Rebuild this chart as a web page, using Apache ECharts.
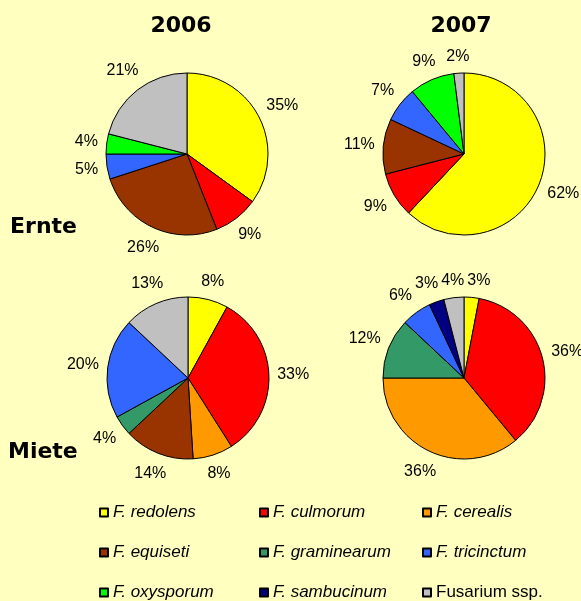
<!DOCTYPE html>
<html>
<head>
<meta charset="utf-8">
<title>Fusarium 2006 / 2007</title>
<script src="https://cdn.jsdelivr.net/npm/echarts@6/dist/echarts.min.js"></script>
<style>
  html, body { margin: 0; padding: 0; background: #ffffc0; }
  #main { width: 581px; height: 601px; }
</style>
</head>
<body>
<div id="main"></div>
<script>
// Arten (Legendenreihenfolge) und ihre Farben
const species = ['F. redolens', 'F. culmorum', 'F. cerealis',
                 'F. equiseti', 'F. graminearum', 'F. tricinctum',
                 'F. oxysporum', 'F. sambucinum', 'Fusarium ssp.'];
const speciesColors = ['#ffff00', '#ff0000', '#ff9900',
                       '#993300', '#339966', '#3366ff',
                       '#00ff00', '#000080', '#c0c0c0'];

// Anteile in % (0 = nicht vorhanden)
const ernte2006 = [35, 9, 0, 26, 0, 5, 4, 0, 21];
const ernte2007 = [62, 9, 0, 11, 0, 7, 9, 0, 2];
const miete2006 = [8, 33, 8, 14, 4, 20, 0, 0, 13];
const miete2007 = [3, 36, 36, 0, 12, 6, 0, 3, 4];

const years = ['2006', '2007'];
const rows = ['Ernte', 'Miete'];

const pies = [
  { values: ernte2006, center: [187, 154] },
  { values: ernte2007, center: [464, 154] },
  { values: miete2006, center: [188, 378] },
  { values: miete2007, center: [464, 378] }
];
const R = 81;
const GAP = 8;
const LABEL_FONT = '16px "Liberation Sans", Arial, sans-serif';

const chart = echarts.init(document.getElementById('main'));

// nur vorhandene Arten in die Torte
const pieData = pies.map(p => species
  .map((name, i) => ({ name: name, value: p.values[i], itemStyle: { color: speciesColors[i] } }))
  .filter(d => d.value > 0));

// Textbreiten messen
const ctx = document.createElement('canvas').getContext('2d');
ctx.font = LABEL_FONT;

// Beschriftung wie in Excel: Textbox ausserhalb entlang der Segmentmitte,
// benachbarte Texte, die sich ueberlappen, werden seitlich auseinandergeschoben
function labelBoxes(k) {
  const p = pies[k];
  const data = pieData[k];
  const total = data.reduce((s, d) => s + d.value, 0);
  let before = 0;
  const boxes = data.map(d => {
    const mid = (before + d.value / 2) / total * 2 * Math.PI;
    before += d.value;
    const w = ctx.measureText(d.value + '%').width, h = 16;
    const dx = Math.sin(mid), dy = -Math.cos(mid);
    const dist = R + GAP + Math.abs(dx) * w / 2 + Math.abs(dy) * h / 2;
    return { x: p.center[0] + dx * dist, y: p.center[1] + dy * dist, w: w, h: h };
  });
  for (let it = 0; it < 10; it++) {
    for (let i = 0; i < boxes.length; i++) {
      const a = boxes[i], b = boxes[(i + 1) % boxes.length];
      if (a === b) continue;
      const need = (a.w + b.w) / 2 + 3;
      const sx = Math.abs(a.x - b.x);
      if (sx < need && Math.abs(a.y - b.y) < (a.h + b.h) / 2) {
        const push = (need - sx) / 2;
        const sgn = a.x < b.x ? 1 : -1;
        a.x -= sgn * push;
        b.x += sgn * push;
      }
    }
  }
  return boxes;
}
const boxesPerPie = pies.map((p, k) => labelBoxes(k));

function placeLabel(params) {
  const b = boxesPerPie[params.seriesIndex][params.dataIndex];
  return { x: b.x, y: b.y, align: 'center', verticalAlign: 'middle' };
}

const series = pies.map((p, k) => ({
  type: 'pie',
  center: p.center,
  radius: R,
  startAngle: 90,
  clockwise: true,
  avoidLabelOverlap: false,
  silent: true,
  itemStyle: { borderColor: '#000', borderWidth: 1 },
  label: {
    show: true,
    position: 'outside',
    formatter: '{c}%',
    color: '#000',
    fontSize: 16,
    fontFamily: 'Liberation Sans, Arial, sans-serif'
  },
  labelLine: { show: false },
  labelLayout: placeLabel,
  data: pieData[k]
}));

const headStyle = { fontFamily: 'DejaVu Sans, Verdana, sans-serif', fontSize: 22, fontWeight: 'bold', color: '#000' };

const legendBase = {
  orient: 'vertical',
  top: 504,
  height: 120,
  padding: 0,
  itemWidth: 8,
  itemHeight: 8,
  itemGap: 23,
  icon: 'rect',
  selectedMode: false,
  textStyle: { fontFamily: 'Liberation Sans, Arial, sans-serif', fontSize: 17, fontStyle: 'italic', color: '#000' }
};

chart.setOption({
  backgroundColor: '#ffffc0',
  animation: false,
  title: [
    { text: years[0], left: 181, top: 15, textAlign: 'center', padding: 0, textStyle: headStyle },
    { text: years[1], left: 461, top: 15, textAlign: 'center', padding: 0, textStyle: headStyle },
    { text: rows[0], left: 10, top: 216, padding: 0, textStyle: headStyle },
    { text: rows[1], left: 8, top: 441, padding: 0, textStyle: headStyle }
  ],
  legend: [
    Object.assign({}, legendBase, { left: 99, data: [species[0], species[3], species[6]] }),
    Object.assign({}, legendBase, { left: 259, data: [species[1], species[4], species[7]] }),
    Object.assign({}, legendBase, { left: 422, data: [species[2], species[5],
      { name: species[8], textStyle: { fontStyle: 'normal' } }] })
  ],
  series: series
});
</script>
</body>
</html>
